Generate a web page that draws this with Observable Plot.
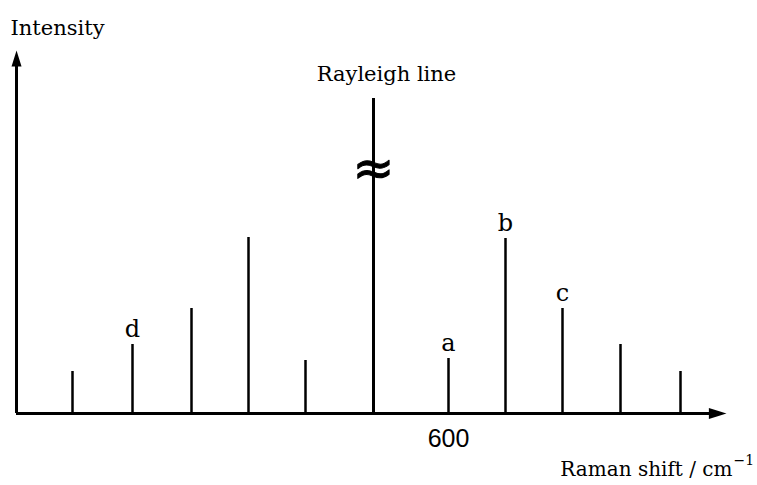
<!DOCTYPE html>
<html>
<head>
<meta charset="utf-8">
<script src="https://cdn.jsdelivr.net/npm/d3@7"></script>
<script src="https://cdn.jsdelivr.net/npm/@observablehq/plot@0.6"></script>
<style>
  html, body { margin: 0; padding: 0; background: #fff; }
</style>
</head>
<body>
<div id="chart"></div>
<script>
// Peak positions (Raman shift, cm^-1, relative to Rayleigh line) and intensities (arb. units)
const shifts      = [-2408, -1928, -1456, -1000, -544, 0, 600, 1056, 1512, 1976, 2456];
const intensities = [42, 69, 105, 176, 53, 315, 55, 175, 105, 69, 42];
const peakLabels  = ["", "d", "", "", "", "", "a", "b", "c", "", ""];
const rayleighLabel = "Rayleigh line";
const xTicks = [600];
const yTitle = "Intensity";
const xTitleMain = "Raman shift / cm";
const xTitleSup = "\u22121";

const xMin = -2856, xMax = 2824;
const yMax = 363;
const breakY = 245;

const peaks = shifts.map((s, i) => ({shift: s, intensity: intensities[i], label: peakLabels[i], rayleigh: s === 0}));

// narrow filled arrowhead, tip at the anchor point, pointing up
const arrowHead = {
  draw(context, size) {
    const s = Math.sqrt(size / Math.PI);
    context.moveTo(0, 0);
    context.lineTo(-s, 3.2 * s);
    context.lineTo(s, 3.2 * s);
    context.closePath();
  }
};

const chart = Plot.plot({
  width: 757,
  height: 485,
  marginLeft: 16,
  marginRight: 31,
  marginTop: 50,
  marginBottom: 72,
  x: {domain: [xMin, xMax]},
  y: {domain: [0, yMax], axis: null},
  style: {fontFamily: "DejaVu Serif", background: "#fff", color: "#000"},
  marks: [
    // axes
    Plot.ruleY([0], {x1: xMin, x2: xMax - 80, stroke: "#000", strokeWidth: 3}),
    Plot.ruleX([xMin], {y1: 0, y2: yMax - 10, stroke: "#000", strokeWidth: 3}),
    Plot.dot([{x: xMin, y: yMax}], {x: "x", y: "y", symbol: arrowHead, r: 5, fill: "#000", stroke: "none"}),
    Plot.dot([{x: xMax, y: 0}], {x: "x", y: "y", symbol: arrowHead, r: 5.5, rotate: 90, fill: "#000", stroke: "none"}),
    // peaks
    Plot.ruleX(peaks, {x: "shift", y1: 0, y2: "intensity", stroke: "#000", strokeWidth: d => d.rayleigh ? 3 : 2.5}),
    // break symbol on Rayleigh line
    Plot.text([{x: 0, y: breakY}], {x: "x", y: "y", text: () => "\u2248", fontSize: 50, fontFamily: "DejaVu Sans", fill: "#000", stroke: "#000", strokeWidth: 1, lineAnchor: "middle"}),
    // peak letters
    Plot.text(peaks.filter(d => d.label), {x: "shift", y: "intensity", text: "label", dy: -8, lineAnchor: "bottom", fontSize: 24, fill: "#000"}),
    // Rayleigh label
    Plot.text([{x: 0, y: intensities[5]}], {x: "x", y: "y", text: () => rayleighLabel, dx: 13, dy: -18, lineAnchor: "bottom", fontSize: 21, fill: "#000"}),
    // axis titles
    Plot.text([{x: xMin, y: yMax}], {x: "x", y: "y", text: () => yTitle, dx: -6, dy: -16, textAnchor: "start", lineAnchor: "bottom", fontSize: 21, fill: "#000"}),
    Plot.text([{x: xMax, y: 0}], {x: "x", y: "y", text: () => xTitleMain, dx: 6, dy: 62, textAnchor: "end", lineAnchor: "bottom", fontSize: 20, fill: "#000"}),
    Plot.text([{x: xMax, y: 0}], {x: "x", y: "y", text: () => xTitleSup, dx: 7, dy: 51, textAnchor: "start", lineAnchor: "bottom", fontSize: 14, fill: "#000"}),
    // tick label
    Plot.axisX({ticks: xTicks, tickSize: 0, tickPadding: 16, label: null, fontSize: 25, fontFamily: "Liberation Sans", tickFormat: d => String(d)})
  ]
});
document.getElementById("chart").appendChild(chart);
</script>
</body>
</html>
